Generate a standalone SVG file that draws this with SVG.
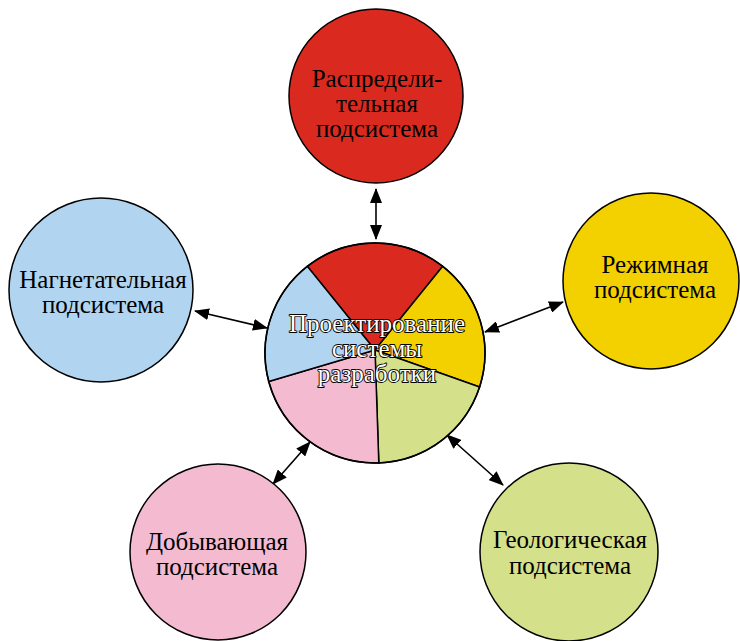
<svg xmlns="http://www.w3.org/2000/svg" width="740" height="641" viewBox="0 0 740 641">
<style>
.c{stroke:#000;stroke-width:1.5}
.t{font-family:"Liberation Serif","Times New Roman",serif;font-size:25px;fill:#000;text-anchor:middle}
.w{font-family:"Liberation Serif","Times New Roman",serif;font-size:25px;fill:#fff;stroke:#000;stroke-width:1.8;paint-order:stroke fill;stroke-linejoin:round;text-anchor:middle}
.a{stroke:#000;stroke-width:1.6;fill:none;marker-start:url(#ah);marker-end:url(#ah)}
</style>
<defs>
<marker id="ah" viewBox="0 0 15 12" refX="14" refY="6" markerWidth="15" markerHeight="12" markerUnits="userSpaceOnUse" orient="auto-start-reverse">
<path d="M0,0 L15,6 L0,12 Z" fill="#000"/>
</marker>
</defs>
<rect width="740" height="641" fill="#fff"/>
<g id="connectors">
<line class="a" x1="376" y1="189" x2="376" y2="239"/>
<line class="a" x1="195" y1="311" x2="267" y2="328"/>
<line class="a" x1="485" y1="332" x2="563" y2="302"/>
<line class="a" x1="273" y1="484" x2="310" y2="442"/>
<line class="a" x1="447" y1="435" x2="503" y2="485"/>
</g>
<g id="center">
<path class="c" fill="#DA2A1F" d="M375,350 L307.3,266.3 A110,110 0 0 1 442.7,266.3 Z"/>
<path class="c" fill="#F3D100" d="M375,350 L442.7,266.3 A110,110 0 0 1 479.6,387 Z"/>
<path class="c" fill="#D5E08B" d="M375,350 L479.6,387 A110,110 0 0 1 378.8,462.9 Z"/>
<path class="c" fill="#F4BBD0" d="M375,350 L378.8,462.9 A110,110 0 0 1 268.7,381.5 Z"/>
<path class="c" fill="#B1D5F1" d="M375,350 L268.7,381.5 A110,110 0 0 1 307.3,266.3 Z"/>
<circle class="c" cx="375" cy="353" r="110" fill="none"/>
<text class="w" x="377" y="332">Проектирование</text>
<text class="w" x="377" y="357">системы</text>
<text class="w" x="377" y="382">разработки</text>
</g>
<g id="raspred">
<circle class="c" cx="376" cy="96" r="87" fill="#DA2A1F"/>
<text class="t" x="377" y="87">Распредели-</text>
<text class="t" x="377" y="112">тельная</text>
<text class="t" x="377" y="137">подсистема</text>
</g>
<g id="nagnet">
<circle class="c" cx="101" cy="290" r="92" fill="#B1D5F1"/>
<text class="t" x="103" y="288">Нагнетательная</text>
<text class="t" x="103" y="313">подсистема</text>
</g>
<g id="rezhim">
<circle class="c" cx="651" cy="281" r="88" fill="#F3D100"/>
<text class="t" x="655" y="273">Режимная</text>
<text class="t" x="655" y="298">подсистема</text>
</g>
<g id="dobyv">
<circle class="c" cx="218" cy="552" r="88" fill="#F4BBD0"/>
<text class="t" x="217" y="550">Добывающая</text>
<text class="t" x="217" y="575">подсистема</text>
</g>
<g id="geolog">
<circle class="c" cx="569" cy="552" r="89" fill="#D5E08B"/>
<text class="t" x="570" y="548">Геологическая</text>
<text class="t" x="570" y="574">подсистема</text>
</g>
</svg>
